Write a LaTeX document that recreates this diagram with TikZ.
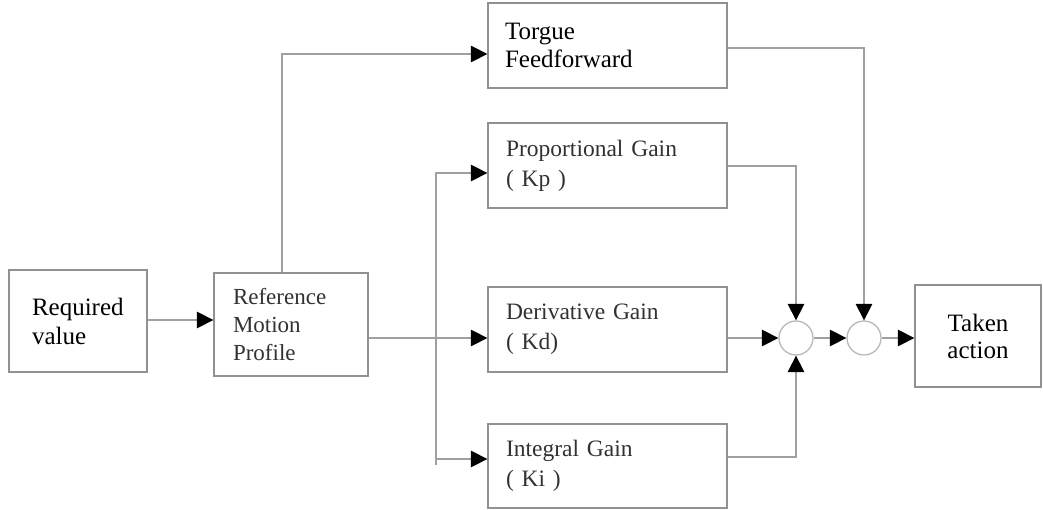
\documentclass[tikz,border=0pt]{standalone}
\usepackage{fontspec}
\setmainfont{Liberation Serif}
\usetikzlibrary{arrows.meta}
\definecolor{boxgray}{RGB}{145,145,145}
\definecolor{linegray}{RGB}{160,160,160}
\definecolor{circgray}{RGB}{185,185,185}
\definecolor{txtgray}{RGB}{50,50,50}
\begin{document}
\begin{tikzpicture}[x=1pt,y=-1pt,
  box/.style={draw=boxgray, line width=1.3pt, rectangle, inner ysep=0pt, align=left, text=txtgray},
  ln/.style={draw=linegray, line width=1.4pt},
  arr/.style={ln, -{Triangle[length=16.5pt,width=16.5pt,color=black,fill=black]}},
  sumnode/.style={circle, draw=circgray, line width=1.3pt, minimum size=34pt, inner sep=0pt}]
\useasboundingbox (0,0) rectangle (1043,510);
\fill[white] (0,0) rectangle (1043,510);

% blocks
\node[box, text=black, font=\fontsize{25}{29}\selectfont, text width=92pt, inner xsep=23pt, minimum height=102pt] (req) at (78,321) {Required\\value};
\node[box, font=\fontsize{23}{28}\selectfont, text width=116pt, inner xsep=19pt, minimum height=103pt] (ref) at (291,324.5) {Reference\\Motion\\Profile};
\node[box, text=black, font=\fontsize{25}{28}\selectfont, text width=205pt, inner xsep=17pt, minimum height=85pt] (tff) at (607.5,45.5) {Torgue\\Feedforward};
\node[box, font=\fontsize{23.5}{30}\selectfont, text width=203pt, inner xsep=18pt, minimum height=85pt] (kp) at (607.5,165.5) {Proportional Gain\\( Kp )};
\node[box, font=\fontsize{23.5}{30}\selectfont, text width=203pt, inner xsep=18pt, minimum height=85pt] (kd) at (607.5,329.5) {Derivative Gain\\( Kd)};
\node[box, font=\fontsize{23.5}{30}\selectfont, text width=203pt, inner xsep=18pt, minimum height=84pt] (ki) at (607.5,466) {Integral Gain\\( Ki )};
\node[box, text=black, align=center, font=\fontsize{25}{27}\selectfont, text width=106pt, inner xsep=10pt, minimum height=102pt] (act) at (978,336) {Taken\\action};

% summing junctions
\node[sumnode] (s1) at (796,338) {};
\node[sumnode] (s2) at (864,338) {};

% helper coordinates
\coordinate (tt) at (282,54);
\coordinate (bt) at (436,173);
\coordinate (bi) at (436,459);
\coordinate (bb) at (436,465);
\coordinate (tc) at (864,48);
\coordinate (pc) at (796,166);
\coordinate (ic) at (796,457);
\coordinate (rq) at (147,320);

% connectors
\draw[arr] (rq -| req.east) -- (rq -| ref.west);
\draw[arr] (ref.north -| tt) -- (tt) -- (tt -| tff.west);
\draw[arr] (s1 -| ref.east) -- (s1 -| kd.west);
\draw[arr] (bb) -- (bt) -- (bt -| kp.west);
\draw[arr] (bi) -- (bi -| ki.west);
\draw[arr] (tc -| tff.east) -- (tc) -- (s2.north);
\draw[arr] (pc -| kp.east) -- (pc) -- (s1.north);
\draw[arr] (ic -| ki.east) -- (ic) -- (s1.south);
\draw[arr] (s1 -| kd.east) -- (s1.west);
\draw[arr] (s1.east) -- (s2.west);
\draw[arr] (s2.east) -- (s2 -| act.west);
\end{tikzpicture}
\end{document}
